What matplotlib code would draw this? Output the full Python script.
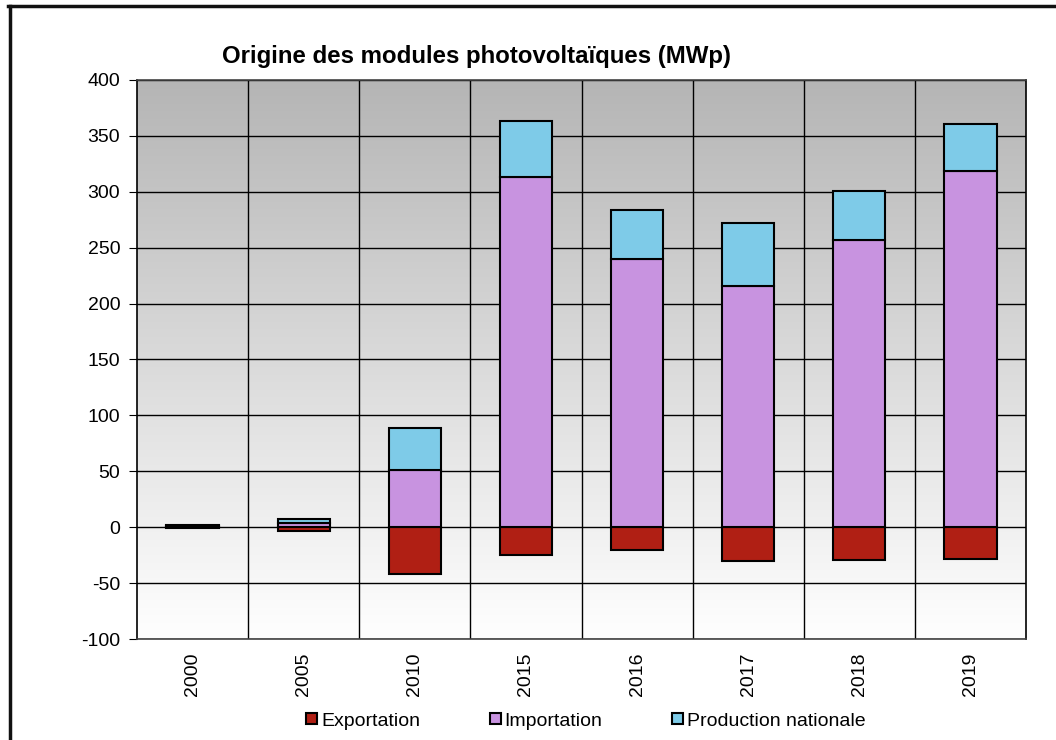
import numpy as np
import matplotlib.pyplot as plt
from matplotlib.lines import Line2D
from matplotlib.patches import Patch

plt.rcParams['font.family'] = ['Liberation Sans', 'DejaVu Sans']
plt.rcParams['axes.unicode_minus'] = False

years = ['2000', '2005', '2010', '2015', '2016', '2017', '2018', '2019']
exportation = [-0.5, -3, -42, -25, -20, -30, -29, -28]
importation = [1, 3.5, 51, 313, 240, 216, 257, 319]
production = [1, 3.5, 38, 50, 44, 56, 44, 42]

colors = {'Exportation': '#b01f14', 'Importation': '#c893e0', 'Production nationale': '#7ecbe8'}

fig = plt.figure(figsize=(10.56, 7.40), dpi=100)
ax = fig.add_axes([137 / 1056, 1 - 639 / 740, (1026 - 137) / 1056, (639 - 80) / 740])

# gray-to-white gradient background
grad = np.linspace(0, 1, 256).reshape(-1, 1)
ax.imshow(grad, cmap=plt.matplotlib.colors.LinearSegmentedColormap.from_list('g', ['#b5b5b5', '#ffffff']),
          extent=[0, 1, 0, 1], transform=ax.transAxes, aspect='auto', zorder=0)

x = np.arange(len(years))
w = 0.47
ax.bar(x, exportation, w, color=colors['Exportation'], edgecolor='black', linewidth=1.5, zorder=3)
ax.bar(x, importation, w, color=colors['Importation'], edgecolor='black', linewidth=1.5, zorder=3)
ax.bar(x, production, w, bottom=importation, color=colors['Production nationale'],
       edgecolor='black', linewidth=1.5, zorder=3)

ax.set_xlim(-0.5, len(years) - 0.5)
ax.set_ylim(-100, 400)
ax.set_yticks(range(-100, 401, 50))
ax.set_xticks(x)
ax.set_xticklabels(years, rotation=90, fontsize=14)
ax.tick_params(axis='x', length=0, pad=10)
ax.tick_params(axis='y', labelsize=14, length=6, direction='out', pad=6)

ax.set_xticks(np.arange(0.5, len(years) - 0.5, 1), minor=True)
ax.tick_params(axis='x', which='minor', length=0)
ax.grid(True, axis='y', which='major', color='black', linewidth=1, zorder=1)
ax.grid(True, axis='x', which='minor', color='black', linewidth=1, zorder=1)
ax.set_axisbelow(True)
for s in ax.spines.values():
    s.set_linewidth(1.2)
ax.spines['top'].set_color('#444444')
ax.spines['bottom'].set_color('#444444')

fig.text(476 / 1056, 1 - 57 / 740, 'Origine des modules photovoltaïques (MWp)',
         ha='center', va='center', fontsize=17.3, fontweight='bold')

handles = [Patch(facecolor=c, edgecolor='black', linewidth=1.5) for c in colors.values()]
fig.legend(handles, list(colors.keys()), loc='center', bbox_to_anchor=(586 / 1056, 1 - 721 / 740),
           ncol=3, frameon=False, fontsize=14, handlelength=0.55, handleheight=0.55,
           handletextpad=0.2, columnspacing=3.6)

# outer frame (left and top only visible)
fig.add_artist(Line2D([9.5 / 1056, 9.5 / 1056], [0, 1 - 6 / 740], color='#111111', linewidth=2.5))
fig.add_artist(Line2D([8 / 1056, 1], [1 - 6 / 740, 1 - 6 / 740], color='#111111', linewidth=2.5))

fig.savefig('out.png', dpi=100)
